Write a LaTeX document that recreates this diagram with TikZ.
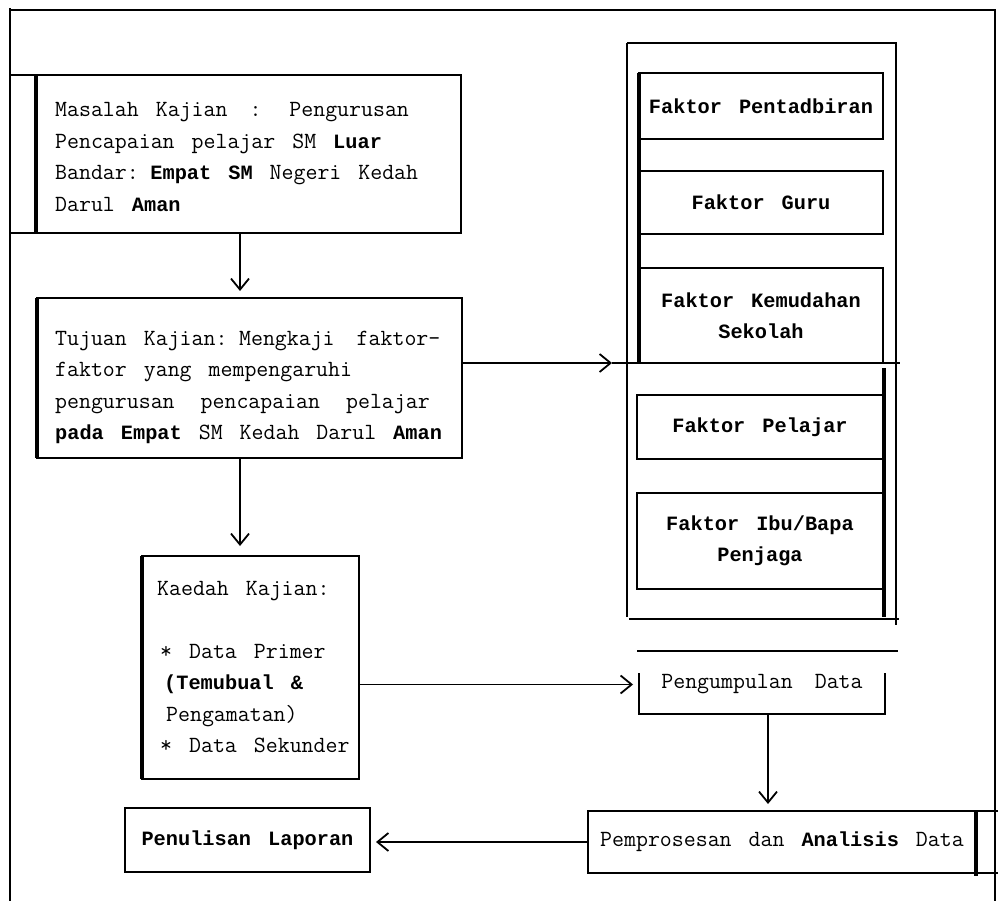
\documentclass[tikz,border=0pt]{standalone}
\usepackage{fontspec}
\newfontfamily\bmono{Liberation Mono}
\newcommand\regfont{\ttfamily\fontsize{23.2}{31.5}\selectfont\spaceskip=17pt plus 0pt minus 0pt\relax}
\newcommand\boldfont{\bmono\bfseries\fontsize{20.3}{31.5}\selectfont\spaceskip=17pt plus 0pt minus 0pt\relax}
\newcommand\bw[1]{{\boldfont #1}}
\usetikzlibrary{arrows.meta}
\begin{document}
\begin{tikzpicture}[x=1pt,y=-1pt,
  frameline/.style={line width=2.6pt},
  boxline/.style={line width=2.3pt},
  thinline/.style={line width=1.8pt},
  thickline/.style={line width=4pt},
  bigbox/.style={draw, boxline, rectangle, inner sep=0pt, outer sep=0pt},
  fbox/.style={draw, thinline, rectangle, inner sep=0pt, outer sep=0pt, align=center, font=\boldfont},
  ghost/.style={rectangle, inner sep=0pt, outer sep=0pt},
  blocktext/.style={font=\regfont, anchor=base west, inner sep=0pt, text width=420pt, align=left},
  arr/.style={line width=1.8pt, -{Straight Barb[length=11pt,width=18pt,line width=1.8pt]}}
]
\useasboundingbox (0,0) rectangle (1000,901);

% outer frame
\draw[frameline] (10,8) -- (10,901);
\draw[frameline] (10,10) -- (995,10) -- (995,901);

% main boxes
\node[bigbox, minimum width=425pt, minimum height=158pt] (prob) at (248.5,154) {};
\node[bigbox, minimum width=425pt, minimum height=160pt] (obj) at (249.5,378) {};
\node[bigbox, minimum width=217pt, minimum height=223pt] (meth) at (250.5,667.5) {};
\draw[thickline] (prob.north west) -- (prob.south west);
\draw[thickline] (obj.north west) -- (obj.south west);
\draw[line width=3.2pt] (meth.north west) -- (meth.south west);
\draw[boxline] (10,75) -- (prob.north west);
\draw[boxline] (10,233) -- (prob.south west);

\node[blocktext] (probtext) at (55,117) {\regfont Masalah Kajian\hspace{22pt}:\hspace{28pt}Pengurusan\\
Pencapaian pelajar SM \bw{Luar}\\
Bandar: \bw{Empat SM} Negeri Kedah\\
Darul \bw{Aman}};

\node[blocktext] (objtext) at (55,345) {\regfont Tujuan Kajian: Mengkaji\hspace{22pt}faktor-\\
faktor yang mempengaruhi\\
pengurusan\hspace{26pt}pencapaian\hspace{26pt}pelajar\\
\bw{pada Empat} SM Kedah Darul \bw{Aman}};

\node[blocktext, text width=200pt] (methtext) at (157,595) {\regfont Kaedah Kajian:\\[31.5pt]
\hspace*{3pt}* Data Primer\\
\hspace*{7pt}\bw{(Temubual \&}\\
\hspace*{9pt}Pengamatan)\\
\hspace*{3pt}* Data Sekunder};

% right column frame
\draw[boxline] (627,43) -- (627,617);
\draw[boxline] (627,43) -- (896,43) -- (896,625);
\draw[boxline] (629,619) -- (899,619);
\draw[line width=3.2pt] (884,368) -- (884,617);

% factor boxes
\node[fbox, minimum width=244pt, minimum height=66pt] (pent) at (761,106) {Faktor Pentadbiran};
\node[fbox, minimum width=244pt, minimum height=63pt] (guru) at (761,202.5) {Faktor Guru};
\node[fbox, minimum width=244pt, minimum height=95pt] (kemu) at (761,315.5) {Faktor Kemudahan\\Sekolah};
\node[fbox, minimum width=246pt, minimum height=64pt] (pelj) at (760,427) {Faktor Pelajar};
\node[fbox, minimum width=246pt, minimum height=96pt] (ibu) at (760,541) {Faktor Ibu/Bapa\\Penjaga};
\draw[thickline] (pent.north west) -- (kemu.south west);

% data collection
\node[ghost, minimum width=246pt, minimum height=59pt, font=\regfont] (coll) at (762,684.5) {Pengumpulan\hspace{22pt}Data};
\draw[thinline] (639,673) -- (coll.south west) -- (coll.south east) -- (885,673);
\draw[boxline] (637,651) -- (898,651);

% processing
\node[draw, thinline, rectangle, inner sep=0pt, outer sep=0pt, minimum width=388pt, minimum height=62pt, font=\regfont] (proc) at (782,842) {Pemprosesan dan \bw{Analisis} Data};
\draw[boxline] (proc.north east) -- (998,811);
\draw[boxline] (proc.south east) -- (998,873);
\draw[line width=3.2pt] (proc.north east) -- ([yshift=-3pt]proc.south east);

% report
\node[draw, thinline, rectangle, inner sep=0pt, outer sep=0pt, minimum width=245pt, minimum height=64pt, font=\boldfont] (rep) at (247.5,840) {Penulisan Laporan};

% connectors
\coordinate (a1) at (240,0);
\coordinate (a4) at (768,0);
\coordinate (a2tip) at (612,363);
\coordinate (a2end) at (900,363);
\draw[arr, shorten >=7pt] (prob.south -| a1) -- (obj.north -| a1);
\draw[arr] (obj.east |- a2tip) -- (a2tip);
\draw[boxline] (a2tip) -- (a2end);
\draw[arr, shorten >=10pt] (obj.south -| a1) -- (meth.north -| a1);
\draw[arr, shorten >=6pt] (meth.east |- coll.west) -- (coll.west);
\draw[arr, shorten >=7pt] (coll.south -| a4) -- (proc.north -| a4);
\draw[arr, shorten >=6pt] (proc.west) -- (rep.east |- proc.west);
\end{tikzpicture}
\end{document}
